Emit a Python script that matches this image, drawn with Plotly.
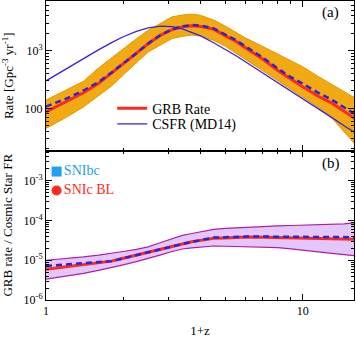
import plotly.graph_objects as go

# 1+z grid
one_plus_z = [1.0, 1.2, 1.4, 1.6, 1.8, 2.0, 2.25, 2.5, 2.8, 3.1, 3.4, 3.7, 4.0, 4.5,
              5.0, 5.5, 6.0, 7.0, 8.0, 9.0, 10.0, 11.5, 13.0, 14.5, 16.0]

# Panel (a): rates [Gpc^-3 yr^-1]
grb_rate = [87, 129, 186, 269, 407, 589, 891, 1318, 1862, 2317, 2600, 2704, 2630, 2344,
            1799, 1445, 1109, 708, 452, 316, 237, 162, 123, 89, 66]
grb_rate_dashed = [107, 148, 204, 285, 417, 596, 900, 1330, 1880, 2340, 2640, 2786, 2720, 2427,
                   1862, 1514, 1175, 759, 490, 347, 269, 186, 141, 105, 79]
grb_rate_hi = [139, 209, 295, 498, 755, 1081, 1607, 2249, 2985, 3846, 4140, 4285, 4093, 3388,
               2655, 2089, 1648, 1175, 871, 670, 527, 357, 257, 195, 151]
grb_rate_lo = [45, 70, 106, 165, 244, 380, 627, 949, 1259, 1622, 1770, 1858, 1791, 1503,
               1189, 912, 695, 447, 303, 216, 159, 104, 68, 39, 24]
csfr_md14 = [300, 490, 735, 1030, 1380, 1740, 2160, 2490, 2660, 2600, 2380, 2090, 1800, 1370,
             1050, 815, 635, 410, 280, 200, 147, 98, 69, 50, 38]

# Panel (b): GRB rate / cosmic star formation rate
ratio = [5.96e-6, 6.9e-6, 7.8e-6, 8.7e-6, 9.5e-6, 1.12e-5, 1.35e-5, 1.62e-5, 1.95e-5, 2.29e-5,
         2.6e-5, 2.92e-5, 3.16e-5, 3.55e-5, 3.63e-5, 3.76e-5, 3.83e-5, 3.8e-5, 3.72e-5, 3.66e-5,
         3.6e-5, 3.52e-5, 3.46e-5, 3.4e-5, 3.35e-5]
ratio_dashed = [7.2e-6, 7.8e-6, 8.3e-6, 8.9e-6, 9.5e-6, 1.12e-5, 1.35e-5, 1.62e-5, 1.95e-5, 2.29e-5,
                2.6e-5, 2.92e-5, 3.2e-5, 3.72e-5, 3.8e-5, 3.89e-5, 3.94e-5, 3.94e-5, 3.92e-5, 3.9e-5,
                3.88e-5, 3.85e-5, 3.83e-5, 3.82e-5, 3.8e-5]
ratio_hi = [1.0e-5, 1.1e-5, 1.21e-5, 1.34e-5, 1.47e-5, 1.66e-5, 1.87e-5, 2.16e-5, 2.8e-5, 3.53e-5,
            4.22e-5, 4.7e-5, 5.19e-5, 5.98e-5, 6.3e-5, 6.55e-5, 6.8e-5, 7.08e-5, 7.33e-5, 7.48e-5,
            7.59e-5, 7.71e-5, 7.94e-5, 8.24e-5, 8.71e-5]
ratio_lo = [3.35e-6, 3.98e-6, 4.68e-6, 5.58e-6, 6.5e-6, 7.67e-6, 9.2e-6, 1.1e-5, 1.37e-5, 1.66e-5,
            1.92e-5, 2.04e-5, 2.16e-5, 2.28e-5, 2.25e-5, 2.22e-5, 2.2e-5, 2.14e-5, 2.08e-5, 1.94e-5,
            1.82e-5, 1.66e-5, 1.49e-5, 1.39e-5, 1.29e-5]

# Local supernova points
sn_names = ["SNIbc", "SNIc BL"]
sn_x = [1.10, 1.10]
sn_ratio = [1.7e-3, 5.7e-4]

x_ticks = [1, 10]
x_minor = [2, 3, 4, 5, 6, 7, 8, 9]
y1_ticks = [100, 1000]
y1_ticktext = ["100", "10<sup>3</sup>"]
y1_minor = [20, 30, 40, 50, 60, 70, 80, 90, 200, 300, 400, 500, 600, 700, 800, 900,
            2000, 3000, 4000, 5000, 6000, 7000]
y2_ticks = [1e-6, 1e-5, 1e-4, 1e-3]
y2_ticktext = ["10<sup>-6</sup>", "10<sup>-5</sup>", "10<sup>-4</sup>", "10<sup>-3</sup>"]
y2_minor = [m * 10.0 ** e for e in (-6, -5, -4, -3) for m in range(2, 10)]

FONT = "Liberation Serif, Times New Roman, serif"
ORANGE = "#F2AA12"
ORANGE_EDGE = "#E39600"
RED = "#FF2A1E"
DBLUE = "#2A24D6"
CSFR_BLUE = "#3A22E0"
VIOLET = "#E3C6FA"
VIOLET_EDGE = "#B51AA6"

fig = go.Figure()

# ---- panel (a)
fig.add_trace(go.Scatter(x=one_plus_z, y=grb_rate_lo, mode="lines",
                         line=dict(color=ORANGE_EDGE, width=1), showlegend=False,
                         xaxis="x", yaxis="y"))
fig.add_trace(go.Scatter(x=one_plus_z, y=grb_rate_hi, mode="lines", fill="tonexty",
                         fillcolor=ORANGE, line=dict(color=ORANGE_EDGE, width=1),
                         showlegend=False, xaxis="x", yaxis="y"))
fig.add_trace(go.Scatter(x=one_plus_z, y=grb_rate, mode="lines", name="GRB Rate",
                         line=dict(color=RED, width=3), xaxis="x", yaxis="y", legend="legend"))
fig.add_trace(go.Scatter(x=one_plus_z, y=csfr_md14, mode="lines", name="CSFR (MD14)",
                         line=dict(color=CSFR_BLUE, width=1.3), xaxis="x", yaxis="y",
                         legend="legend2"))
fig.add_trace(go.Scatter(x=one_plus_z, y=grb_rate_dashed, mode="lines", showlegend=False,
                         line=dict(color=DBLUE, width=2.5, dash="6px,4px"), xaxis="x", yaxis="y"))

# ---- panel (b)
fig.add_trace(go.Scatter(x=one_plus_z, y=ratio_lo, mode="lines",
                         line=dict(color=VIOLET_EDGE, width=1.2), showlegend=False,
                         xaxis="x2", yaxis="y2"))
fig.add_trace(go.Scatter(x=one_plus_z, y=ratio_hi, mode="lines", fill="tonexty",
                         fillcolor=VIOLET, line=dict(color=VIOLET_EDGE, width=1.2),
                         showlegend=False, xaxis="x2", yaxis="y2"))
fig.add_trace(go.Scatter(x=one_plus_z, y=ratio, mode="lines", showlegend=False,
                         line=dict(color=RED, width=3), xaxis="x2", yaxis="y2"))
fig.add_trace(go.Scatter(x=one_plus_z, y=ratio_dashed, mode="lines", showlegend=False,
                         line=dict(color=DBLUE, width=2.5, dash="6px,4px"), xaxis="x2", yaxis="y2"))
sn_colors = ["#22A0F0", "#FF2A1E"]
sn_symbols = ["square", "circle"]
for i in range(2):
    fig.add_trace(go.Scatter(x=[sn_x[i]], y=[sn_ratio[i]], mode="markers+text",
                             text=[sn_names[i]], textposition="middle right",
                             textfont=dict(family=FONT, size=14, color=sn_colors[i]),
                             marker=dict(symbol=sn_symbols[i], size=10, color=sn_colors[i]),
                             showlegend=False, cliponaxis=False, xaxis="x2", yaxis="y2"))

axis_common = dict(showline=True, linecolor="black", linewidth=1, mirror="allticks",
                   ticks="inside", ticklen=6, tickcolor="black", showgrid=False, zeroline=False,
                   automargin=False,
                   tickfont=dict(family=FONT, size=12, color="black"))

legend_common = dict(xanchor="left", yanchor="middle", bgcolor="rgba(0,0,0,0)",
                     font=dict(family=FONT, size=14, color="black"), itemwidth=30)

fig.update_layout(
    width=356, height=338,
    margin=dict(l=46, r=2, t=1, b=38),
    paper_bgcolor="white", plot_bgcolor="white",
    font=dict(family=FONT, size=12, color="black"),
    xaxis=dict(axis_common, type="log", range=[0, 1.2], domain=[0, 1], anchor="y",
               tickvals=x_ticks, showticklabels=False, matches="x2",
               minor=dict(ticks="inside", ticklen=3, tickcolor="black", tickvals=x_minor)),
    xaxis2=dict(axis_common, type="log", range=[0, 1.2], domain=[0, 1], anchor="y2",
                tickvals=x_ticks, ticktext=["1", "10"],
                minor=dict(ticks="inside", ticklen=3, tickcolor="black", tickvals=x_minor),
                title=dict(text="1+z", font=dict(family=FONT, size=13), standoff=11)),
    yaxis=dict(axis_common, type="log", range=[1.27, 3.86], domain=[0.5, 1], anchor="x",
               tickvals=y1_ticks, ticktext=y1_ticktext,
               minor=dict(ticks="inside", ticklen=3, tickcolor="black", tickvals=y1_minor),
               title=dict(text="Rate [Gpc<sup>-3</sup> yr<sup>-1</sup>]",
                          font=dict(family=FONT, size=13), standoff=11)),
    yaxis2=dict(axis_common, type="log", range=[-6, -2.24], domain=[0, 0.5], anchor="x2",
                tickvals=y2_ticks, ticktext=y2_ticktext,
                minor=dict(ticks="inside", ticklen=3, tickcolor="black", tickvals=y2_minor),
                title=dict(text="GRB rate / Cosmic Star FR",
                           font=dict(family=FONT, size=13), standoff=11)),
    legend=dict(legend_common, x=0.215, y=0.64),
    legend2=dict(legend_common, x=0.215, y=0.588),
    annotations=[
        dict(text="(a)", xref="x domain", yref="y domain", x=0.925, y=0.923,
             xanchor="center", yanchor="middle",
             showarrow=False, font=dict(family=FONT, size=15, color="black")),
        dict(text="(b)", xref="x2 domain", yref="y2 domain", x=0.925, y=0.91,
             xanchor="center", yanchor="middle",
             showarrow=False, font=dict(family=FONT, size=15, color="black")),
    ],
)

fig.write_html("out.html", config={"displayModeBar": False},
               post_script="document.body.style.margin='0';document.body.style.overflow='hidden';")
